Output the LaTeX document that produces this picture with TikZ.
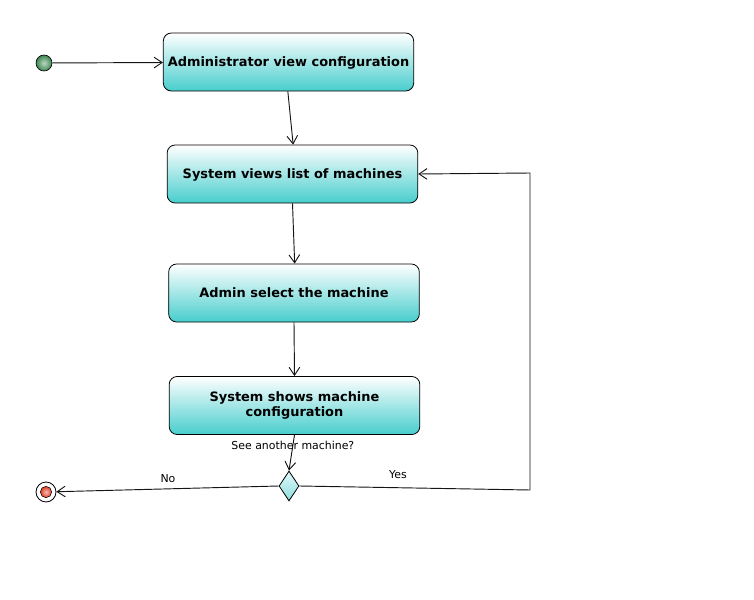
\documentclass[tikz,border=0pt]{standalone}
\usepackage{fontspec}
\setmainfont{DejaVu Sans}
\usetikzlibrary{arrows.meta,shapes.geometric}
\definecolor{tealc}{RGB}{72,205,205}
\definecolor{linec}{RGB}{20,20,20}
\definecolor{ballg}{RGB}{60,135,80}
\definecolor{ballr}{RGB}{225,60,35}
\tikzset{
  act/.style={draw=black, rounded corners=6pt, minimum width=188pt, minimum height=43.5pt,
    top color=white, bottom color=tealc, font=\bfseries\fontsize{9.7}{11.5}\selectfont, align=center, line width=0.6pt},
  one/.style={text height=7pt, text depth=0pt},
  flow/.style={draw=linec, line width=0.7pt, -{Straight Barb[length=6pt,width=8pt]}},
  lbl/.style={font=\fontsize{8.2}{10}\selectfont, inner sep=1pt},
  dec/.style={diamond, draw=black, line width=0.6pt, minimum width=15pt, minimum height=22.5pt, inner sep=0pt, aspect=0.67,
    top color={rgb,255:red,225;green,250;blue,250}, bottom color={rgb,255:red,140;green,220;blue,220}},
}
\begin{document}
\begin{tikzpicture}[x=0.75pt,y=-0.75pt]
\useasboundingbox (0,0) rectangle (754,600);
\node[circle, draw=black, line width=0.5pt, minimum size=12pt, inner sep=0pt, inner color=ballg!35!white, outer color=ballg] (start) at (44,63) {};
\node[act, one, minimum width=186.75pt] (a1) at (288.5,62) {Administrator view configuration};
\node[act, one] (a2) at (292.5,174) {System views list of machines};
\node[act, one] (a3) at (294,293) {Admin select the machine};
\node[act] (a4) at (294.5,405.5) {System shows machine\\configuration};
\node[dec] (d) at (289,486) {};
\node[circle, draw=black, line width=0.6pt, fill=white, minimum size=15pt, inner sep=0pt] (endo) at (46,492) {};
\node[circle, draw=black, line width=0.4pt, minimum size=8.5pt, inner sep=0pt, inner color=ballr!35!white, outer color=ballr] (endi) at (46,492) {};
\coordinate (c1) at (530,490);
\coordinate (c2) at (530,173);
\draw[flow] (start) -- (a1);
\draw[flow] ([xshift=-0.5pt]a1.south) -- ([xshift=0.5pt]a2.north);
\draw[flow] (a2.south) -- ([xshift=0.5pt]a3.north);
\draw[flow] (a3.south) -- (a4.north);
\draw[flow] (a4.south) -- (d.north) node[lbl, pos=0.3] {See another machine?};
\draw[flow] (d.west) -- (endo);
\node[lbl] (no) at (168,479) {No};
\draw[flow] (d.east) -- (c1) -- (c2) -- (a2.east);
\node[lbl] (yes) at (398,475) {Yes};
\end{tikzpicture}
\end{document}
